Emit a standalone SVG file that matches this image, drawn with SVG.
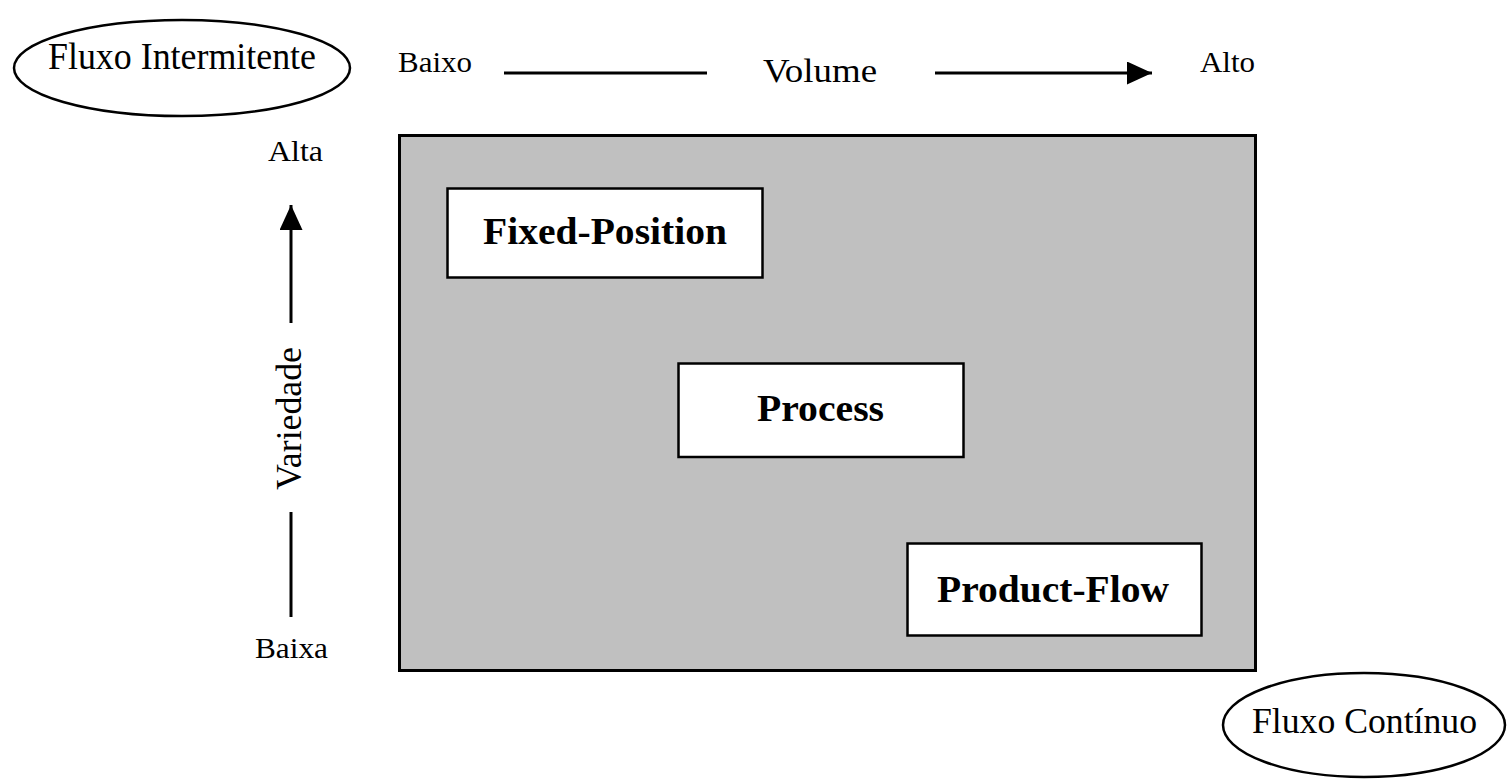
<svg xmlns="http://www.w3.org/2000/svg" width="1507" height="780" viewBox="0 0 1507 780">
<style>
  .lbl { font-family: "Liberation Serif", "Times New Roman", serif; fill: #000; }
  .bold { font-weight: bold; }
  .box { fill: #fff; stroke: #000; stroke-width: 2.5; }
  .ell { fill: #fff; stroke: #000; stroke-width: 2.5; }
  .ax { stroke: #000; stroke-width: 3; fill: none; }
</style>
<defs>
  <marker id="ah" markerUnits="userSpaceOnUse" markerWidth="26" markerHeight="24" refX="25" refY="11.5" orient="auto">
    <path d="M0,0 L25,11.5 L0,23 z" fill="#000"/>
  </marker>
</defs>
<rect width="1507" height="780" fill="#fff"/>

<g id="matrix">
  <rect x="399.5" y="135.5" width="856" height="535" fill="#c0c0c0" stroke="#000" stroke-width="3"/>
</g>

<g id="fluxo-intermitente">
  <ellipse class="ell" cx="182" cy="68" rx="168" ry="48"/>
  <text class="lbl" x="48" y="69" font-size="38.5" textLength="268" lengthAdjust="spacingAndGlyphs">Fluxo Intermitente</text>
</g>

<g id="fluxo-continuo">
  <ellipse class="ell" cx="1364" cy="725" rx="141" ry="52"/>
  <text class="lbl" x="1252" y="733" font-size="35" textLength="225" lengthAdjust="spacingAndGlyphs">Fluxo Contínuo</text>
</g>

<g id="fixed-position">
  <rect class="box" x="447.5" y="188.5" width="315" height="89"/>
  <text class="lbl bold" x="483" y="244" font-size="37.5" textLength="244" lengthAdjust="spacingAndGlyphs">Fixed-Position</text>
</g>

<g id="process">
  <rect class="box" x="678.5" y="363.5" width="285" height="93.5"/>
  <text class="lbl bold" x="757" y="421" font-size="38.5" textLength="127" lengthAdjust="spacingAndGlyphs">Process</text>
</g>

<g id="product-flow">
  <rect class="box" x="907.5" y="543.5" width="294" height="92"/>
  <text class="lbl bold" x="937" y="602" font-size="37.5" textLength="232" lengthAdjust="spacingAndGlyphs">Product-Flow</text>
</g>

<g id="axis-labels">
  <text class="lbl" x="398" y="72" font-size="29" textLength="74" lengthAdjust="spacingAndGlyphs">Baixo</text>
  <text class="lbl" x="763" y="82" font-size="34" textLength="114" lengthAdjust="spacingAndGlyphs">Volume</text>
  <text class="lbl" x="1200" y="72" font-size="29.5" textLength="55" lengthAdjust="spacingAndGlyphs">Alto</text>
  <text class="lbl" x="268" y="161" font-size="29" textLength="55" lengthAdjust="spacingAndGlyphs">Alta</text>
  <text class="lbl" x="255" y="658" font-size="29" textLength="73" lengthAdjust="spacingAndGlyphs">Baixa</text>
  <text class="lbl" transform="translate(301,490) rotate(-90)" x="0" y="0" font-size="36" textLength="143" lengthAdjust="spacingAndGlyphs">Variedade</text>
</g>

<g id="connectors">
  <line class="ax" x1="504" y1="73" x2="707" y2="73"/>
  <line class="ax" x1="935" y1="73" x2="1152" y2="73" marker-end="url(#ah)"/>
  <line class="ax" x1="291" y1="323" x2="291" y2="205" marker-end="url(#ah)"/>
  <line class="ax" x1="291" y1="512" x2="291" y2="617"/>
</g>
</svg>
